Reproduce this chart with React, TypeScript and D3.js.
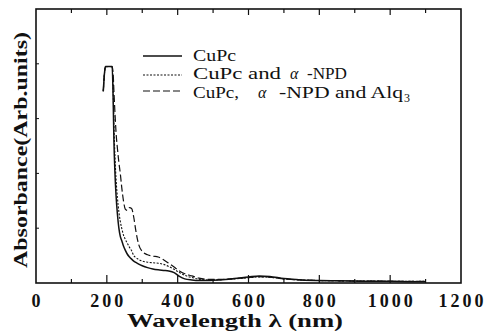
import React from "react";
import * as d3 from "d3";

// Wavelength grid (nm) shared by the three absorbance spectra
const wavelengths = [
  190, 193, 196, 205, 215, 218, 220, 223, 226, 230, 234, 238, 242, 247, 252,
  258, 264, 270, 276, 282, 290, 300, 315, 330, 345, 360, 375, 390, 405, 420,
  440, 460, 490, 520, 560, 600, 630, 660, 700, 750, 800, 850, 900, 950, 1000,
  1050, 1100,
];

// CuPc
const cupc = [
  0.7, 0.76, 0.79, 0.79, 0.79, 0.66, 0.52, 0.4, 0.32, 0.25, 0.2, 0.17, 0.155,
  0.135, 0.12, 0.105, 0.095, 0.087, 0.08, 0.075, 0.069, 0.063, 0.056, 0.051,
  0.048, 0.046, 0.044, 0.038, 0.024, 0.015, 0.011, 0.009, 0.009, 0.011, 0.016,
  0.022, 0.026, 0.024, 0.016, 0.011, 0.009, 0.008, 0.007, 0.006, 0.006, 0.005,
  0.005,
];

// CuPc and α-NPD
const cupcNpd = [
  0.7, 0.76, 0.79, 0.79, 0.79, 0.7, 0.58, 0.46, 0.38, 0.31, 0.26, 0.225, 0.2,
  0.175, 0.16, 0.145, 0.13, 0.118, 0.1, 0.093, 0.086, 0.08, 0.076, 0.074,
  0.072, 0.068, 0.06, 0.05, 0.038, 0.028, 0.02, 0.014, 0.011, 0.012, 0.015,
  0.019, 0.022, 0.021, 0.015, 0.011, 0.009, 0.008, 0.007, 0.007, 0.006, 0.006,
  0.006,
];

// CuPc, α-NPD and Alq3
const cupcNpdAlq = [
  0.7, 0.76, 0.79, 0.79, 0.79, 0.76, 0.7, 0.62, 0.55, 0.49, 0.44, 0.4, 0.35,
  0.3, 0.27, 0.265, 0.275, 0.272, 0.24, 0.19, 0.14, 0.115, 0.103, 0.098, 0.095,
  0.085, 0.072, 0.058, 0.044, 0.034, 0.026, 0.018, 0.013, 0.013, 0.016, 0.02,
  0.023, 0.021, 0.015, 0.011, 0.009, 0.008, 0.007, 0.007, 0.006, 0.006, 0.006,
];

const xTickLabels = [0, 200, 400, 600, 800, 1000, 1200];
const xMinorTicks = d3.range(100, 1200, 100);
const yMinorTicks = [0.2, 0.4, 0.6, 0.8];

const W = 486;
const H = 334;
const serif = "Liberation Serif";

export default function App() {
  const x = d3.scaleLinear().domain([0, 1200]).range([36, 461]);
  const y = d3.scaleLinear().domain([0, 1]).range([283, 9]);

  const line = d3
    .line<number>()
    .x((_, i) => x(wavelengths[i]))
    .y((d) => y(d))
    .curve(d3.curveMonotoneX);

  const series = [
    { name: "CuPc", values: cupc, dash: "none", width: 1.5 },
    { name: "CuPc and α-NPD", values: cupcNpd, dash: "2,1.5", width: 1.1 },
    { name: "CuPc, α-NPD and Alq3", values: cupcNpdAlq, dash: "7,3", width: 1.2 },
  ];

  const legendLineY = [56, 75, 91];
  const legendTextY = [60.5, 79, 97.5];

  return (
    <svg
      width={W}
      height={H}
      style={{ position: "absolute", left: 0, top: 0, background: "#fff", fontFamily: serif }}
    >
      {/* plot frame */}
      <rect
        x={x(0)}
        y={y(1)}
        width={x(1200) - x(0)}
        height={y(0) - y(1)}
        fill="none"
        stroke="#111"
        strokeWidth={1.6}
      />

      {/* bottom and top ticks */}
      {xMinorTicks.map((t) => {
        const major = t % 200 === 0;
        return (
          <g key={t}>
            <line x1={x(t)} x2={x(t)} y1={y(0)} y2={y(0) - (major ? 8 : 4)} stroke="#111" strokeWidth={1.2} />
            <line x1={x(t)} x2={x(t)} y1={y(1)} y2={y(1) + (major ? 6 : 4)} stroke="#111" strokeWidth={1.2} />
          </g>
        );
      })}
      {/* left ticks */}
      {yMinorTicks.map((t) => (
        <line key={t} x1={x(0)} x2={x(0) + 3} y1={y(t)} y2={y(t)} stroke="#111" strokeWidth={1} />
      ))}

      {/* spectra */}
      {series.map((s) => (
        <path
          key={s.name}
          d={line(s.values) ?? ""}
          fill="none"
          stroke="#111"
          strokeWidth={s.width}
          strokeDasharray={s.dash}
        />
      ))}

      {/* x tick labels */}
      {xTickLabels.map((t) => (
        <text
          key={t}
          x={x(t) + 1.5}
          y={307}
          textAnchor="middle"
          fontSize={18}
          fontWeight="bold"
          letterSpacing={3}
          fill="#111"
        >
          {t}
        </text>
      ))}

      {/* axis titles */}
      <text
        x={235}
        y={327}
        textAnchor="middle"
        fontSize={18}
        fontWeight="bold"
        textLength={216}
        lengthAdjust="spacingAndGlyphs"
        fill="#111"
      >
        Wavelength λ (nm)
      </text>
      <text
        transform="translate(27,150) rotate(-90)"
        textAnchor="middle"
        fontSize={18}
        fontWeight="bold"
        textLength={236}
        lengthAdjust="spacingAndGlyphs"
        fill="#111"
      >
        Absorbance(Arb.units)
      </text>

      {/* legend */}
      {series.map((s, i) => (
        <line
          key={s.name}
          x1={143}
          x2={182}
          y1={legendLineY[i]}
          y2={legendLineY[i]}
          stroke="#111"
          strokeWidth={s.width}
          strokeDasharray={s.dash}
        />
      ))}
      <g fontSize={16} fill="#111">
        <text x={193} y={legendTextY[0]} textLength={43} lengthAdjust="spacingAndGlyphs">
          CuPc
        </text>
        <text y={legendTextY[1]}>
          <tspan x={193} textLength={88} lengthAdjust="spacingAndGlyphs">CuPc and</tspan>
          <tspan x={290} fontStyle="italic">α</tspan>
          <tspan x={307} textLength={40} lengthAdjust="spacingAndGlyphs">-NPD</tspan>
        </text>
        <text y={legendTextY[2]}>
          <tspan x={193} textLength={46} lengthAdjust="spacingAndGlyphs">CuPc,</tspan>
          <tspan x={258} fontStyle="italic">α</tspan>
          <tspan x={279} textLength={124} lengthAdjust="spacingAndGlyphs">-NPD and Alq</tspan>
          <tspan x={404} fontSize={12} dy={4}>3</tspan>
        </text>
      </g>
    </svg>
  );
}
